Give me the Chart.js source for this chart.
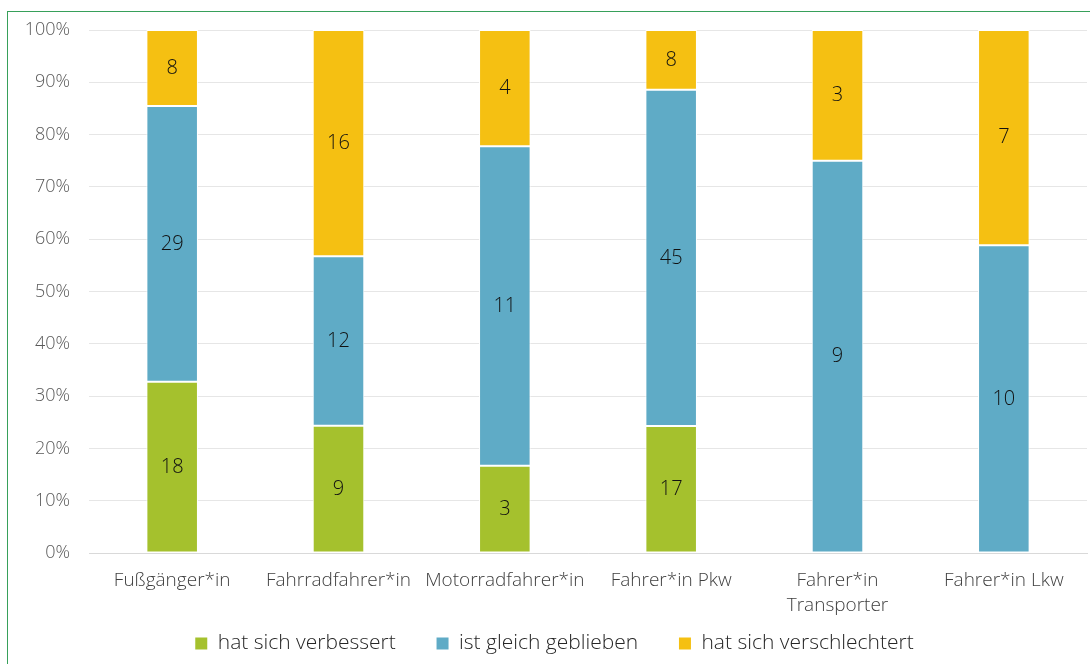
<!DOCTYPE html>
<html>
<head>
<meta charset="utf-8">
<script src="https://cdn.jsdelivr.net/npm/chart.js@4.4.0/dist/chart.umd.min.js"></script>
<style>
  html, body { margin: 0; padding: 0; background: #fff; }
  #frame {
    position: absolute; left: 7px; top: 11px; width: 1100px; height: 700px;
    border-left: 1px solid #37a05a; border-top: 1px solid #37a05a;
  }
  #wrap { position: absolute; left: 0; top: 0; width: 1090px; height: 664px; }
</style>
</head>
<body>
<div id="frame"></div>
<div id="wrap"><canvas id="myChart" width="1090" height="664"></canvas></div>
<script>
const categories = ["Fußgänger*in", "Fahrradfahrer*in", "Motorradfahrer*in", "Fahrer*in Pkw", ["Fahrer*in", "Transporter"], "Fahrer*in Lkw"];
const verbessert = [18, 9, 3, 17, 0, 0];
const gleich = [29, 12, 11, 45, 9, 10];
const verschlechtert = [8, 16, 4, 8, 3, 7];
const seriesNames = ["hat sich verbessert", "ist gleich geblieben", "hat sich verschlechtert"];
const yTicks = [0, 10, 20, 30, 40, 50, 60, 70, 80, 90, 100];

const totals = verbessert.map((v, i) => v + gleich[i] + verschlechtert[i]);
const pct = (arr) => arr.map((v, i) => (v / totals[i]) * 100);

const FONT = "'Open Sans', 'Noto Sans', sans-serif";
const GAP = "      "; // extra room between legend items

// draws the counts in the middle of each segment
const countLabels = {
  id: "countLabels",
  afterDatasetsDraw(chart) {
    const ctx = chart.ctx;
    ctx.save();
    ctx.font = "300 20px " + FONT;
    ctx.fillStyle = "#111111";
    ctx.textAlign = "center";
    ctx.textBaseline = "middle";
    chart.data.datasets.forEach((ds, di) => {
      const meta = chart.getDatasetMeta(di);
      meta.data.forEach((bar, i) => {
        const n = ds.counts[i];
        if (!n) return;
        ctx.fillText(String(n), bar.x, (bar.y + bar.base) / 2);
      });
    });
    ctx.restore();
  },
};

new Chart("myChart", {
  type: "bar",
  data: {
    labels: categories,
    datasets: [
      { label: seriesNames[0], data: pct(verbessert), counts: verbessert, backgroundColor: "#a5c12d" },
      { label: seriesNames[1], data: pct(gleich), counts: gleich, backgroundColor: "#5fabc6" },
      { label: seriesNames[2], data: pct(verschlechtert), counts: verschlechtert, backgroundColor: "#f5c012" },
    ].map((d) => ({
      ...d,
      borderColor: "#ffffff",
      borderWidth: 1,
      borderSkipped: false,
      barPercentage: 0.31,
      categoryPercentage: 1,
    })),
  },
  options: {
    responsive: false,
    animation: false,
    devicePixelRatio: 1,
    layout: { padding: { top: 30, right: 3, left: 22, bottom: 0 } },
    plugins: {
      tooltip: { enabled: false },
      legend: {
        position: "bottom",
        labels: {
          font: { family: FONT, size: 21, weight: 300 },
          color: "#262626",
          boxWidth: 12,
          boxHeight: 12,
          padding: 8,
          generateLabels: (chart) => {
            const items = Chart.defaults.plugins.legend.labels.generateLabels(chart);
            items.forEach((it, i) => {
              it.lineWidth = 0;
              if (i < items.length - 1) it.text = it.text + GAP;
            });
            return items;
          },
        },
      },
    },
    scales: {
      x: {
        stacked: true,
        afterFit: (scale) => { scale.height = 72; },
        grid: { display: false, drawTicks: false },
        border: { color: "#d9d9d9" },
        ticks: {
          font: { family: FONT, size: 19, weight: 300, lineHeight: 1.32 },
          color: "#404040",
          padding: 15,
          maxRotation: 0,
          autoSkip: false,
        },
      },
      y: {
        stacked: true,
        min: 0,
        max: 100,
        afterFit: (scale) => { scale.width = 67; },
        afterBuildTicks: (scale) => { scale.ticks = yTicks.map((v) => ({ value: v })); },
        grid: { color: "#e6e6e6", drawTicks: false },
        border: { display: false },
        ticks: {
          font: { family: FONT, size: 18, weight: 300 },
          color: "#595959",
          padding: 19,
          callback: (v) => v + "%",
        },
      },
    },
  },
  plugins: [countLabels],
});
</script>
</body>
</html>
